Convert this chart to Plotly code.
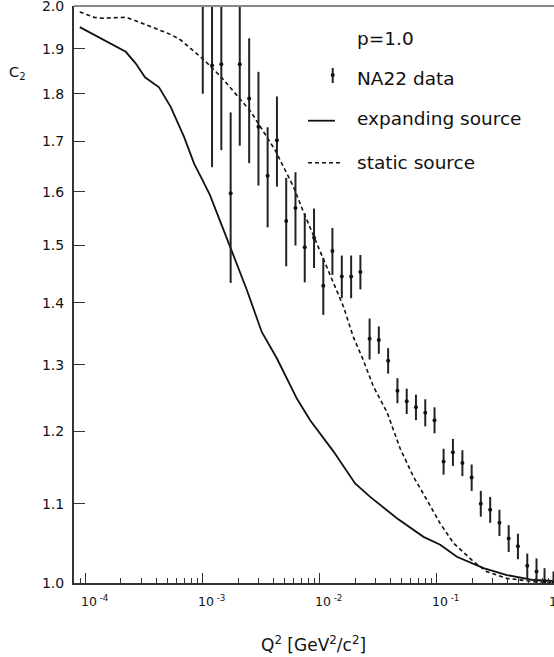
import math
import plotly.graph_objects as go

# ---------------- data ----------------
q2_data = [0.00100, 0.00120, 0.00144, 0.00173, 0.00207, 0.00249, 0.00299, 0.00358,
           0.00430, 0.00516, 0.00619, 0.00743, 0.00892, 0.0107, 0.0128, 0.0154,
           0.0185, 0.0222, 0.0266, 0.0319, 0.0383, 0.0460, 0.0552, 0.0662, 0.0795,
           0.0954, 0.114, 0.137, 0.165, 0.198, 0.237, 0.285, 0.342, 0.410, 0.492,
           0.591, 0.709, 0.83, 0.99]
c2_data = [2.10, 1.862, 1.865, 1.597, 1.865, 1.790, 1.730, 1.631, 1.702, 1.545,
           1.569, 1.497, 1.514, 1.429, 1.490, 1.445, 1.445, 1.453, 1.341, 1.339,
           1.306, 1.260, 1.244, 1.235, 1.227, 1.216, 1.157, 1.170, 1.155, 1.135,
           1.100, 1.092, 1.075, 1.055, 1.045, 1.021, 1.014, 1.002, 0.999]
c2_err = [0.30, 0.214, 0.183, 0.163, 0.174, 0.134, 0.118, 0.098, 0.092, 0.082,
          0.069, 0.062, 0.054, 0.049, 0.042, 0.037, 0.037, 0.030, 0.033, 0.022,
          0.020, 0.019, 0.019, 0.019, 0.020, 0.019, 0.018, 0.019, 0.018, 0.018,
          0.017, 0.017, 0.017, 0.017, 0.016, 0.015, 0.016, 0.016, 0.015]

q2_expanding = [8.9e-5, 1.18e-4, 2.20e-4, 2.67e-4, 3.21e-4, 4.23e-4, 5.32e-4, 6.92e-4,
                8.43e-4, 9.93e-4, 1.15e-3, 1.71e-3, 2.38e-3, 3.19e-3, 4.29e-3, 6.36e-3,
                8.26e-3, 1.31e-2, 2.00e-2, 2.69e-2, 4.55e-2, 7.68e-2, 0.1067, 0.148,
                0.250, 0.396, 0.670, 1.0]
c2_expanding = [1.950, 1.932, 1.893, 1.867, 1.836, 1.814, 1.772, 1.709,
                1.655, 1.623, 1.594, 1.498, 1.422, 1.352, 1.310, 1.248,
                1.216, 1.171, 1.127, 1.109, 1.081, 1.057, 1.047, 1.032,
                1.018, 1.0096, 1.0036, 1.0024]

q2_static = [8.9e-5, 1.18e-4, 1.38e-4, 2.12e-4, 2.34e-4, 3.15e-4, 5.32e-4, 6.48e-4,
             1.03e-3, 1.43e-3, 2.57e-3, 4.15e-3, 5.94e-3, 7.24e-3, 8.81e-3, 1.07e-2,
             1.31e-2, 1.59e-2, 1.93e-2, 2.35e-2, 2.87e-2, 3.74e-2, 4.86e-2, 6.31e-2,
             8.21e-2, 0.1067, 0.1387, 0.2056, 0.267, 0.396, 0.670, 1.0]
c2_static = [1.986, 1.973, 1.971, 1.973, 1.971, 1.957, 1.933, 1.920,
             1.874, 1.837, 1.762, 1.682, 1.610, 1.562, 1.518, 1.477,
             1.436, 1.394, 1.344, 1.307, 1.266, 1.228, 1.175, 1.136,
             1.105, 1.074, 1.049, 1.026, 1.0137, 1.0056, 1.0016, 1.0004]

x_tick_vals = [1e-4, 1e-3, 1e-2, 1e-1, 1.0]
x_tick_text = ["10<sup> -4</sup>", "10<sup> -3</sup>", "10<sup> -2</sup>", "10<sup> -1</sup>", "1"]
y_tick_vals = [1.0, 1.1, 1.2, 1.3, 1.4, 1.5, 1.6, 1.7, 1.8, 1.9, 2.0]
y_tick_text = ["1.0", "1.1", "1.2", "1.3", "1.4", "1.5", "1.6", "1.7", "1.8", "1.9", "2.0"]

legend_labels = ["NA22 data", "expanding source", "static source"]
param_label = "p=1.0"

# ---------------- figure ----------------
FONT = "DejaVu Sans, Liberation Sans, sans-serif"
INK = "#111111"
AX = "#333333"

fig = go.Figure()

fig.add_trace(go.Scatter(
    x=q2_static, y=c2_static, mode="lines",
    line=dict(color=INK, width=1.6, dash="4px,3px"), showlegend=False))
fig.add_trace(go.Scatter(
    x=q2_expanding, y=c2_expanding, mode="lines",
    line=dict(color=INK, width=1.8), showlegend=False))
fig.add_trace(go.Scatter(
    x=q2_data, y=c2_data, mode="markers",
    marker=dict(color=INK, size=4),
    error_y=dict(type="data", array=c2_err, visible=True, width=0, thickness=2, color="#222222"),
    showlegend=False))

minor_x = [m * 10.0 ** e for e in range(-5, 0) for m in range(2, 10)]

fig.update_layout(
    width=554, height=657,
    margin=dict(l=74, r=0, t=6, b=74, autoexpand=False),
    paper_bgcolor="white", plot_bgcolor="white",
    font=dict(family=FONT, color=INK),
    xaxis=dict(
        type="log", range=[-4.1, 0.0], automargin=False,
        showgrid=False, zeroline=False,
        showline=True, linecolor=AX, linewidth=2,
        ticks="inside", ticklen=10, tickwidth=1.3, tickcolor=AX,
        tickmode="array", tickvals=x_tick_vals, showticklabels=False,
        minor=dict(tickmode="array", tickvals=minor_x, ticks="inside",
                   ticklen=5, tickwidth=1.1, tickcolor=AX, showgrid=False),
    ),
    yaxis=dict(
        type="log", range=[0.0, math.log10(2.0) + 2e-5], automargin=False,
        showgrid=False, zeroline=False,
        showline=True, linecolor=AX, linewidth=2,
        ticks="inside", ticklen=11, tickwidth=1.3, tickcolor=AX,
        tickmode="array", tickvals=y_tick_vals, ticktext=y_tick_text,
        tickfont=dict(family=FONT, size=14, color=INK),
        ticklabelstandoff=5, ticklabeloverflow="allow",
    ),
)

# top frame line
fig.add_shape(type="line", xref="paper", yref="paper", x0=0, x1=1, y0=1, y1=1,
              line=dict(color="#888888", width=2))

# x tick labels (left aligned near the tick, as in the reference)
for v, t in zip(x_tick_vals, x_tick_text):
    fig.add_annotation(x=math.log10(v), xref="x", y=0, yref="paper",
                       text=t, showarrow=False, xanchor="left", yanchor="middle",
                       xshift=-7, yshift=-18,
                       font=dict(family=FONT, size=12.5, color=INK))

# axis titles
fig.add_annotation(x=-0.117, xref="paper", y=0.884, yref="paper",
                   text="C<sub>2</sub>", showarrow=False, xanchor="center", yanchor="middle",
                   font=dict(family=FONT, size=14.5, color=INK))
fig.add_annotation(x=0.498, xref="paper", y=-0.105, yref="paper",
                   text="Q<sup>2</sup> [GeV<sup>2</sup>/c<sup>2</sup>]", showarrow=False,
                   xanchor="center", yanchor="middle",
                   font=dict(family=FONT, size=17, color=INK))

# legend (hand placed)
text_x = 0.5854
fig.add_annotation(x=text_x, xref="paper", y=0.9445, yref="paper", text=param_label,
                   showarrow=False, xanchor="left", yanchor="middle",
                   font=dict(family=FONT, size=18.5, color=INK))
for lab, yy in zip(legend_labels, [0.8752, 0.8042, 0.7296]):
    fig.add_annotation(x=text_x, xref="paper", y=yy, yref="paper", text=lab,
                       showarrow=False, xanchor="left", yanchor="middle",
                       font=dict(family=FONT, size=18.5, color=INK))

# legend samples
fig.add_shape(type="line", xref="paper", yref="paper", x0=0.539, x1=0.539, y0=0.8666, y1=0.8925,
              line=dict(color="#222222", width=2))
fig.add_shape(type="circle", xref="paper", yref="paper", x0=0.539 - 0.0042, x1=0.539 + 0.0042,
              y0=0.8804 - 0.0035, y1=0.8804 + 0.0035, fillcolor=INK, line=dict(color=INK, width=0))
fig.add_shape(type="line", xref="paper", yref="paper", x0=0.4875, x1=0.5438, y0=0.8012, y1=0.8012,
              line=dict(color=INK, width=1.8))
fig.add_shape(type="line", xref="paper", yref="paper", x0=0.4875, x1=0.5583, y0=0.7284, y1=0.7284,
              line=dict(color=INK, width=1.6, dash="4px,3px"))

fig.write_html(
    "out.html",
    config={"displayModeBar": False},
    post_script="document.body.style.margin='0px';document.body.style.padding='0px';"
                "document.body.style.overflow='hidden';"
                "document.documentElement.style.overflow='hidden';",
)
